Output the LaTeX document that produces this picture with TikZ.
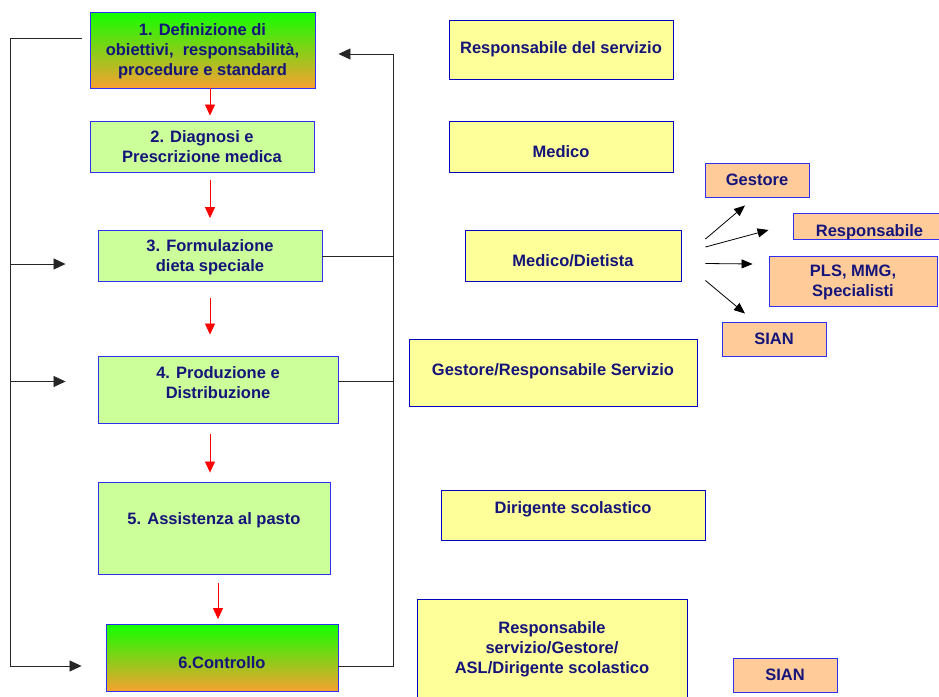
\documentclass[tikz,border=0pt]{standalone}
\usepackage{fontspec}
\setmainfont{Liberation Sans}
\usetikzlibrary{arrows.meta}

\definecolor{txtblue}{HTML}{14147A}
\definecolor{edgeblue}{HTML}{3030F0}
\definecolor{stepgreen}{HTML}{CCFF99}
\definecolor{roleyellow}{HTML}{FFFF99}
\definecolor{actororange}{HTML}{FFCC99}
\definecolor{topgreen}{HTML}{12FF00}
\definecolor{midolive}{HTML}{AAD41E}
\definecolor{botorange}{HTML}{F8A030}

\tikzset{
  box/.style={draw=edgeblue, line width=0.9pt, inner sep=2pt, align=center,
    font=\bfseries\fontsize{16.5}{20}\selectfont, text=txtblue},
  stepbox/.style={box, fill=stepgreen},
  keybox/.style={box, top color=topgreen, middle color=midolive, bottom color=botorange},
  rolebox/.style={box, draw=blue!75!black, fill=roleyellow},
  actorbox/.style={box, fill=actororange},
  flow/.style={-{Triangle[length=11pt,width=10pt]}, red, line width=0.8pt},
  busline/.style={line width=0.8pt, black!85},
  backarrow/.style={busline, -{Triangle[length=12pt,width=11pt]}},
  fan/.style={line width=0.8pt, -{Triangle[length=11pt,width=9pt]}}
}

\begin{document}
\begin{tikzpicture}[x=1pt, y=-1pt]
  \useasboundingbox (0,0) rectangle (939,696);

  % fasi
  \node[keybox, minimum width=225pt, minimum height=76pt, text depth=1pt] (def) at (202.5,50)
    {1. Definizione di\\ obiettivi,\ \ responsabilità,\\ procedure e standard};
  \node[stepbox, minimum width=224pt, minimum height=51pt, text depth=0pt] (diag) at (202,146.5)
    {2. Diagnosi e\\ Prescrizione medica};
  \node[stepbox, minimum width=224pt, minimum height=51pt, text depth=0pt] (dieta) at (210,256)
    {3. Formulazione\\ dieta speciale};
  \node[stepbox, minimum width=240pt, minimum height=67pt, text depth=14pt] (prod) at (218,389.5)
    {4. Produzione e\\ Distribuzione};
  \node[stepbox, minimum width=232pt, minimum height=92pt, text depth=19pt] (pasto) at (214,528)
    {5. Assistenza al pasto};
  \node[keybox, minimum width=232pt, minimum height=67pt, text height=20pt, text depth=0pt] (ctrl) at (222,658)
    {6.Controllo};

  % responsabili
  \node[rolebox, minimum width=224pt, minimum height=59pt] (rserv) at (561,49.5)
    {Responsabile del servizio};
  \node[rolebox, minimum width=224pt, minimum height=51pt, text height=21pt, text depth=0pt] (rmed) at (561,146.5)
    {Medico};
  \node[rolebox, minimum width=216pt, minimum height=51pt, text height=21pt, text depth=0pt] (rdiet) at (573,255.5)
    {Medico/Dietista};
  \node[rolebox, minimum width=288pt, minimum height=67pt, text depth=6pt] (rgest) at (553,372.5)
    {Gestore/Responsabile Servizio};
  \node[rolebox, minimum width=264pt, minimum height=50pt, text depth=15pt] (rdir) at (573,515)
    {Dirigente scolastico};
  \node[rolebox, minimum width=270pt, minimum height=100pt] (rctrl) at (552,649)
    {Responsabile\\ servizio/Gestore/\\ ASL/Dirigente scolastico};

  % comunicazione
  \node[actorbox, minimum width=104pt, minimum height=34pt] (gest) at (757,180) {Gestore};
  \node[actorbox, minimum width=153pt, minimum height=26pt, text height=20pt, text depth=0pt] (resp) at (869.5,226) {Responsabile};
  \node[actorbox, minimum width=168pt, minimum height=50pt, text depth=0pt] (pls) at (853,281) {PLS, MMG,\\ Specialisti};
  \node[actorbox, minimum width=104pt, minimum height=34pt] (sian) at (774,339) {SIAN};
  \node[actorbox, minimum width=104pt, minimum height=34pt] (sianc) at (785,675) {SIAN};

  % sequenza
  \coordinate (spine) at (210,0);
  \coordinate (spinelow) at (218,0);
  \draw[flow, shorten >=5pt] (spine |- def.south) -- (spine |- diag.north);
  \draw[flow, shorten <=8pt, shorten >=12pt] (spine |- diag.south) -- (spine |- dieta.north);
  \draw[flow, shorten <=16pt, shorten >=21pt] (spine |- dieta.south) -- (spine |- prod.north);
  \draw[flow, shorten <=11pt, shorten >=9pt] (spine |- prod.south) -- (spine |- pasto.north);
  \draw[flow, shorten <=9pt, shorten >=5pt] (spinelow |- pasto.south) -- (spinelow |- ctrl.north);

  % ritorno a sinistra
  \coordinate (lt) at (10,38);
  \coordinate (lb) at (10,666);
  \coordinate (in3) at ([shift={(-32,8)}]dieta.west);
  \coordinate (in4) at ([shift={(-32,-8)}]prod.west);
  \draw[busline] ([shift={(-8,-12)}]def.west) -- (lt) -- (lb);
  \draw[backarrow] (lb) -- ([shift={(-24,8)}]ctrl.west);
  \draw[backarrow] (lt |- in3) -- (in3);
  \draw[backarrow] (lt |- in4) -- (in4);

  % ritorno a destra
  \coordinate (rt) at (393,54);
  \coordinate (rb) at (393,666);
  \coordinate (out4) at ([yshift=8pt]prod.east);
  \draw[busline] ([yshift=-8pt]ctrl.east) -- (rb) -- (rt);
  \draw[backarrow] (rt) -- ([shift={(23,4)}]def.east);
  \draw[busline] (dieta.east) -- (rt |- dieta.east);
  \draw[busline] (out4) -- (rt |- out4);

  % informazioni dal medico/dietista
  \draw[fan] ([shift={(24,-16.5)}]rdiet.east) -- ([shift={(-12,8)}]gest.south);
  \draw[fan] ([shift={(24,-8.5)}]rdiet.east) -- ([shift={(-24,4)}]resp.west);
  \draw[fan] ([shift={(24,8)}]rdiet.east) -- ([shift={(-16,-17)}]pls.west);
  \draw[fan] ([shift={(24,25)}]rdiet.east) -- ([shift={(-29,-8)}]sian.north);
\end{tikzpicture}
\end{document}
